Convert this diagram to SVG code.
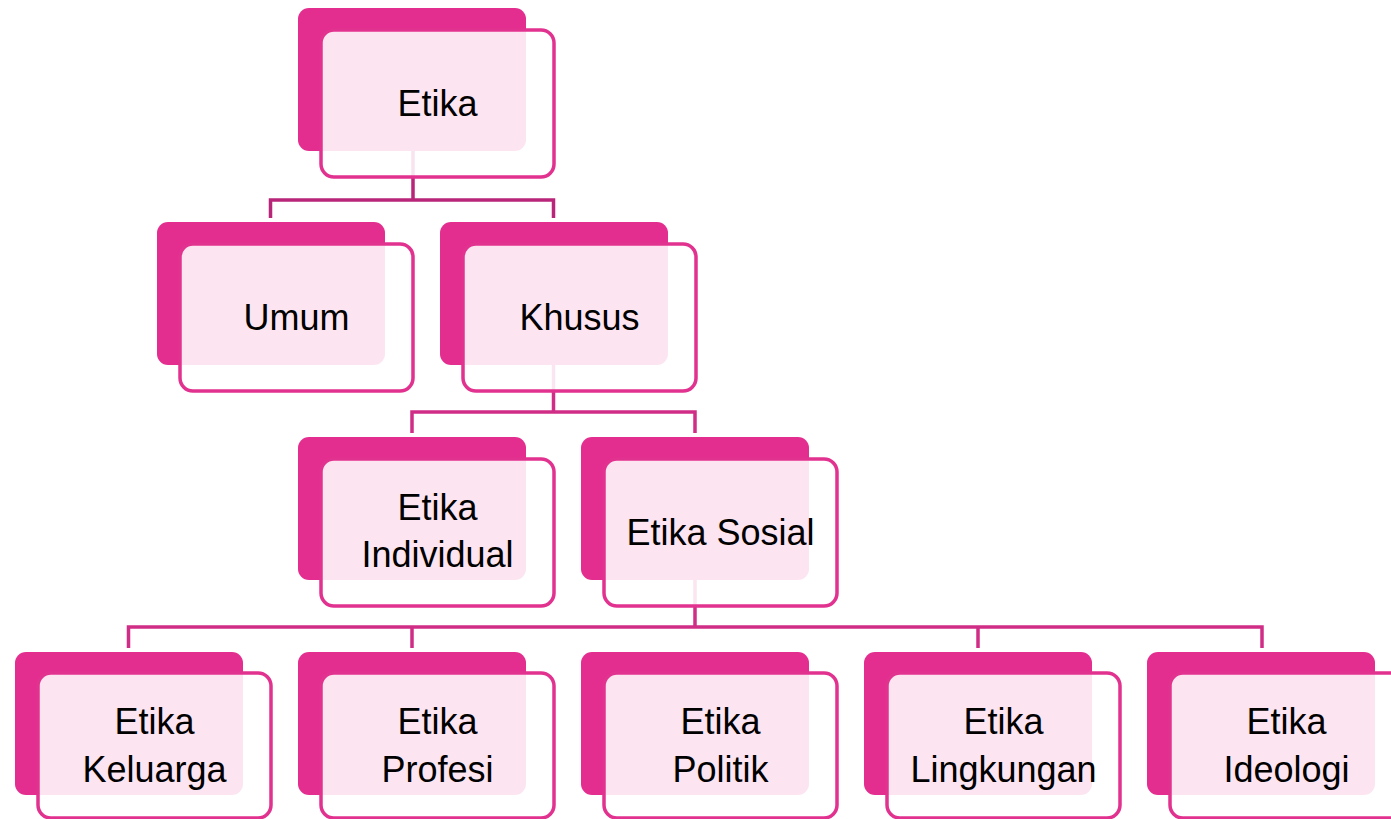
<svg xmlns="http://www.w3.org/2000/svg" width="1391" height="819" viewBox="0 0 1391 819">
<style>
.back{fill:#E32E8F}
.front{fill:#FFFFFF;fill-opacity:0.88;stroke:#E2328F;stroke-width:3.5}
.lbl{font-family:"Liberation Sans",Arial,sans-serif;font-size:36px;fill:#000;text-anchor:middle}
.conn{fill:none;stroke:#D02E86;stroke-width:3.5}
.conn1{fill:none;stroke:#B92679;stroke-width:3.5}
</style>
<rect width="1391" height="819" fill="#FFFFFF"/>
<g id="connectors">
<path class="conn1" d="M413 150 V200 M270.5 218 V200 H553.5 V218"/>
<path class="conn" d="M553.5 365 V412 M412 433 V412 H695 V433"/>
<path class="conn" d="M695 580 V627 M128.5 648 V627 H1262 V648 M412 648 V627 M978 648 V627"/>
</g>
<g id="n-etika">
<rect class="back" x="298" y="8" width="228" height="143" rx="11"/>
<rect class="front" x="321" y="30" width="233" height="147" rx="13"/>
<text class="lbl" x="437.5" y="116">Etika</text>
</g>
<g id="n-umum">
<rect class="back" x="157" y="222" width="228" height="143" rx="11"/>
<rect class="front" x="180" y="244" width="233" height="147" rx="13"/>
<text class="lbl" x="296.5" y="330">Umum</text>
</g>
<g id="n-khusus">
<rect class="back" x="440" y="222" width="228" height="143" rx="11"/>
<rect class="front" x="463" y="244" width="233" height="147" rx="13"/>
<text class="lbl" x="579.5" y="330">Khusus</text>
</g>
<g id="n-individual">
<rect class="back" x="298" y="437" width="228" height="143" rx="11"/>
<rect class="front" x="321" y="459" width="233" height="147" rx="13"/>
<text class="lbl" x="437.5" y="520">Etika</text>
<text class="lbl" x="437.5" y="567">Individual</text>
</g>
<g id="n-sosial">
<rect class="back" x="581" y="437" width="228" height="143" rx="11"/>
<rect class="front" x="604" y="459" width="233" height="147" rx="13"/>
<text class="lbl" x="720.5" y="545">Etika Sosial</text>
</g>
<g id="n-keluarga">
<rect class="back" x="15" y="652" width="228" height="143" rx="11"/>
<rect class="front" x="38" y="673" width="233" height="145" rx="13"/>
<text class="lbl" x="154.5" y="734">Etika</text>
<text class="lbl" x="154.5" y="782">Keluarga</text>
</g>
<g id="n-profesi">
<rect class="back" x="298" y="652" width="228" height="143" rx="11"/>
<rect class="front" x="321" y="673" width="233" height="145" rx="13"/>
<text class="lbl" x="437.5" y="734">Etika</text>
<text class="lbl" x="437.5" y="782">Profesi</text>
</g>
<g id="n-politik">
<rect class="back" x="581" y="652" width="228" height="143" rx="11"/>
<rect class="front" x="604" y="673" width="233" height="145" rx="13"/>
<text class="lbl" x="720.5" y="734">Etika</text>
<text class="lbl" x="720.5" y="782">Politik</text>
</g>
<g id="n-lingkungan">
<rect class="back" x="864" y="652" width="228" height="143" rx="11"/>
<rect class="front" x="887" y="673" width="233" height="145" rx="13"/>
<text class="lbl" x="1003.5" y="734">Etika</text>
<text class="lbl" x="1003.5" y="782">Lingkungan</text>
</g>
<g id="n-ideologi">
<rect class="back" x="1147" y="652" width="228" height="143" rx="11"/>
<rect class="front" x="1170" y="673" width="233" height="145" rx="13"/>
<text class="lbl" x="1286.5" y="734">Etika</text>
<text class="lbl" x="1286.5" y="782">Ideologi</text>
</g>
</svg>
